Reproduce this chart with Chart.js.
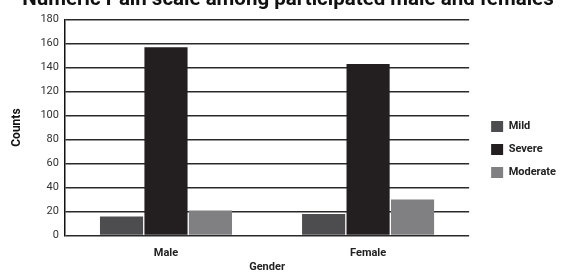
<!DOCTYPE html>
<html>
<head>
<meta charset="utf-8">
<script src="https://cdn.jsdelivr.net/npm/chart.js@4"></script>
<style>
  html, body { margin: 0; padding: 0; background: #fff; }
  #wrap { width: 564px; height: 272px; }
</style>
</head>
<body>
<div id="wrap"><canvas id="myChart" width="564" height="272"></canvas></div>
<script>
const categories = ["Male", "Female"];
const seriesNames = ["Mild", "Severe", "Moderate"];
const mildValues = [16, 18];
const severeValues = [157, 143];
const moderateValues = [21, 30];
const yTicks = [0, 20, 40, 60, 80, 100, 120, 140, 160, 180];

const colors = ["#4d4d4f", "#231f20", "#808083"];
const fontFamily = "Roboto, 'DejaVu Sans', sans-serif";

const ctx = document.getElementById("myChart").getContext("2d");

window.myChart = new Chart(ctx, {
  type: "bar",
  data: {
    labels: categories,
    datasets: [mildValues, severeValues, moderateValues].map((vals, i) => ({
      label: seriesNames[i],
      data: vals,
      backgroundColor: colors[i],
      borderWidth: 0,
      categoryPercentage: 0.66,
      barPercentage: 0.97,
    })),
  },
  options: {
    responsive: false,
    animation: false,
    layout: { padding: { left: 10, right: -2, bottom: -2, top: 0 } },
    plugins: {
      title: {
        display: true,
        text: "Numeric Pain scale among participated male and females",
        color: "#111",
        font: { family: fontFamily, size: 20.5, weight: "bold" },
        padding: { top: -12, bottom: 7 },
      },
      legend: {
        position: "right",
        title: {
          display: true,
          text: " ",
          font: { size: 11 },
          padding: { top: 6, bottom: 6 },
        },
        labels: {
          color: "#222",
          font: { family: fontFamily, size: 11, weight: "bold" },
          boxWidth: 12,
          boxHeight: 11,
          padding: 12,
        },
      },
      tooltip: { enabled: false },
    },
    scales: {
      x: {
        grid: { display: false, drawTicks: false },
        border: { display: false },
        ticks: {
          color: "#222",
          font: { family: fontFamily, size: 11, weight: "bold" },
          padding: 11,
        },
        title: {
          display: true,
          text: "Gender",
          color: "#222",
          font: { family: fontFamily, size: 11, weight: "bold" },
          padding: { top: -10, bottom: 0 },
        },
      },
      y: {
        min: 0,
        max: 180,
        afterBuildTicks: (axis) => {
          axis.ticks = yTicks.map((v) => ({ value: v }));
        },
        grid: { color: "#2a2a2a", lineWidth: 1.5, drawTicks: false },
        border: { display: true, color: "#111", width: 1.5 },
        ticks: {
          color: "#333",
          font: { family: fontFamily, size: 11 },
          padding: 6,
        },
        title: {
          display: true,
          text: "Counts",
          color: "#111",
          font: { family: fontFamily, size: 12, weight: "bold" },
          padding: { top: 0, bottom: 10 },
        },
      },
      // empty spacer between plot and legend
      gap: {
        position: "right",
        display: true,
        grid: { display: false, drawTicks: false },
        border: { display: false },
        ticks: { display: false },
        afterFit: (axis) => {
          axis.width = 10;
        },
      },
    },
  },
});
</script>
</body>
</html>
